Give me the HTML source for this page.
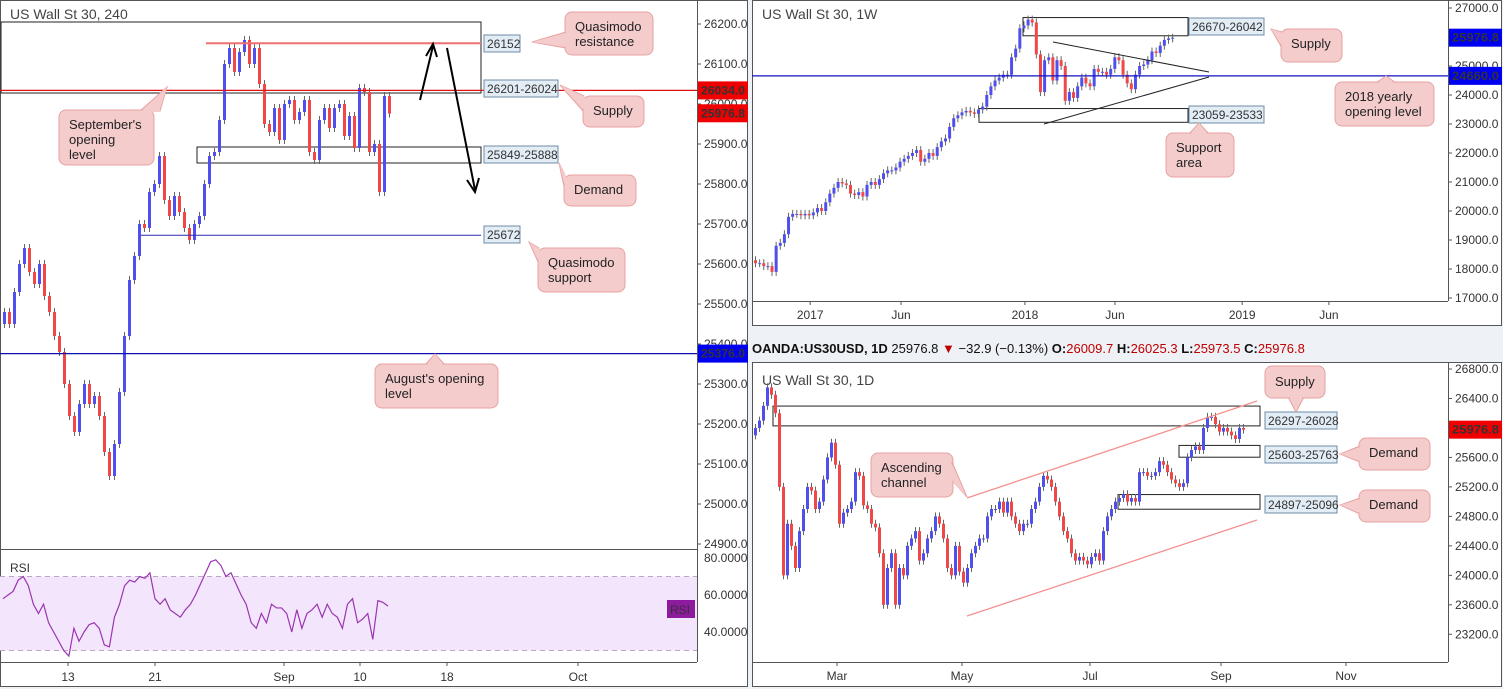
<!DOCTYPE html>
<html><head><meta charset="utf-8"><style>
body{margin:0;background:#eef1f5;}
svg{display:block;font-family:"Liberation Sans",sans-serif;}
.ax{font-size:12px;fill:#333;}
.ttl{font-size:14px;fill:#444;}
.co{font-size:13px;fill:#222;}
</style></head><body>
<svg id="chart" width="1503" height="689" viewBox="0 0 1503 689" xmlns="http://www.w3.org/2000/svg">
<rect x="0" y="0" width="1503" height="689" fill="#eef1f5"/>
<rect x="0.5" y="0.5" width="747" height="686" fill="#fff" stroke="#555"/>
<rect x="752.5" y="0.5" width="749" height="325" fill="#fff" stroke="#555"/>
<rect x="752.5" y="362.5" width="749" height="324" fill="#fff" stroke="#555"/>
<g id="layer"></g>
</svg>
<script>
// ---------- 4H data ----------
const h4Close=[25480,25450,25530,25600,25640,25580,25550,25600,25520,25480,25420,25380,25300,25220,25180,25250,25300,25250,25270,25220,25130,25070,25150,25280,25420,25560,25620,25700,25690,25780,25800,25870,25760,25720,25770,25730,25690,25660,25700,25720,25800,25870,25880,25960,26100,26140,26080,26130,26160,26100,26140,26050,25950,25930,25990,25910,26000,26010,25960,25980,26010,25880,25860,25960,25990,25940,25990,26000,25920,25970,25890,26040,26030,25880,25900,25780,26020,25976];
const h4Open0=25450;
const rsiVals=[58,60,62,68,70,65,55,50,55,45,40,35,30,27,42,35,40,44,45,42,33,32,48,55,65,68,67,70,69,72,58,55,58,52,50,48,52,55,60,66,72,78,79,76,70,72,66,60,55,45,42,50,45,55,53,53,50,40,52,42,50,52,55,48,55,50,48,42,55,58,45,47,50,36,57,56,54];
const h4PriceTicks=[26200,26100,26000,25900,25800,25700,25600,25500,25400,25300,25200,25100,25000,24900];
const h4DateLabels=["13","21","Sep","10","18","Oct"];
const h4DatePos=[13,30.4,56.2,71.4,88.8,115]; // in 4H bar-index units
const rsiTicks=[80,60,40];
// ---------- Weekly data ----------
const wClose=[18200,18200,18100,18100,17900,18800,18900,19200,19800,19900,19900,19850,19900,19850,19950,20100,20000,20300,20600,20800,21000,20950,20900,20600,20550,20650,20500,20900,21000,20900,21100,21300,21400,21400,21500,21700,21800,21900,22000,22100,21700,21800,22000,21900,22200,22400,22500,22900,23200,23300,23400,23450,23400,23350,23500,23600,24000,24300,24500,24600,24700,24700,25300,25600,26300,26400,26600,26500,25400,24100,25200,25300,24500,25200,25000,23800,24100,23900,24300,24600,24400,24300,24900,24800,24800,24700,24900,25300,25200,24700,24400,24200,24700,25000,25050,25200,25500,25450,25700,25900,25950,25976];
const wOpen0=18300;
const wPriceTicks=[27000,26000,25000,24000,23000,22000,21000,20000,19000,18000,17000];
const wDateLabels=["2017","Jun","2018","Jun","2019","Jun"];
const wDatePos=[13.6,35.6,65.6,87.4,118.2,139.2];
// ---------- Daily data ----------
const dClose=[26000,26100,26300,26550,26450,26200,25200,24000,24700,24400,24100,24600,24900,25200,25150,24900,25000,25300,25600,25800,25500,24700,24850,24900,25000,25400,25350,24950,24900,24700,24650,24300,23600,24100,24300,23600,24100,24000,24400,24500,24600,24200,24300,24500,24600,24800,24700,24500,24100,24000,24400,24050,23900,24100,24300,24400,24500,24500,24800,24900,24900,25000,24850,25000,24800,24700,24600,24700,24700,24900,25000,25200,25350,25300,25200,25000,24800,24600,24500,24300,24200,24250,24200,24150,24250,24300,24200,24600,24800,24900,25000,25050,25100,25000,25050,25000,25400,25400,25350,25350,25400,25550,25500,25400,25300,25250,25200,25250,25600,25700,25750,25700,26000,26150,26150,26050,25950,26000,25950,25900,25850,26000,25977];
const dOpen0=25900;
const dPriceTicks=[26800,26400,26000,25600,25200,24800,24400,24000,23600,23200];
const dDateLabels=["Mar","May","Jul","Sep","Nov"];
const dDatePos=[20.75,52,84,116.75,148];

const NS="http://www.w3.org/2000/svg";
const layer=document.getElementById('layer');
function mk(tag,attrs,name,parent){
  const e=document.createElementNS(NS,tag);
  for(const k in attrs)e.setAttribute(k,attrs[k]);
  
  
  (parent||layer).appendChild(e);return e;
}
function txt(x,y,s,cls,name,extra){
  const t=mk('text',Object.assign({x:x,y:y,class:cls},extra||{}),name);
  t.textContent=s;return t;
}
const yH4=p=>24+(26200-p)*0.4;
const xH4=i=>3+i*5;
const yRsi=v=>558+(80-v)*1.85;
const yW=p=>8+(27000-p)*0.029;
const xW=i=>754+i*4.13;
const yD=p=>369+(26800-p)*0.07369;
const xD=i=>754+i*4;

function candles(closes,open0,xf,yf,clipTop,clipBot,nm){
  let o=open0;
  closes.forEach((c,i)=>{
    const x=xf(i),y1=yf(Math.max(o,c)),y2=yf(Math.min(o,c));
    const up=c>=o,col=up?'#4f4ff0':'#f04848';
    mk('line',{x1:x+1.5,x2:x+1.5,y1:Math.max(clipTop,y1-4),y2:Math.min(clipBot,y2+4),stroke:'#666','stroke-width':1},nm+'-wick');
    mk('rect',{x:x,y:y1,width:3,height:Math.max(1,y2-y1),fill:col},nm+'-candle');
    o=c;
  });
}
// ---------- Left 4H panel ----------
txt(10,19,"US Wall St 30, 240","ttl","h4-title");
mk('rect',{x:1,y:22,width:480,height:71,fill:'none',stroke:'#222','stroke-width':1},'supply-zone-26201-26024');
mk('rect',{x:197,y:147,width:284,height:16,fill:'none',stroke:'#222','stroke-width':1},'demand-zone-25849-25888');
candles(h4Close,h4Open0,xH4,yH4,0,548,'h4');
mk('line',{x1:206,x2:481,y1:yH4(26152),y2:yH4(26152),stroke:'#f07070','stroke-width':2},'quasimodo-resistance-line');
mk('line',{x1:0,x2:697,y1:yH4(26034),y2:yH4(26034),stroke:'#e01010','stroke-width':1.3},'september-opening-line');
mk('line',{x1:141,x2:481,y1:yH4(25672),y2:yH4(25672),stroke:'#2a2ab0','stroke-width':1},'quasimodo-support-line');
mk('line',{x1:0,x2:697,y1:yH4(25376),y2:yH4(25376),stroke:'#1010b0','stroke-width':1.3},'august-opening-line');
mk('line',{x1:420,y1:100,x2:433,y2:46,stroke:'#000','stroke-width':2},'arrow-up');
mk('polyline',{points:'426,56 433,44 437,57',fill:'none',stroke:'#000','stroke-width':2},'arrow-up-head');
mk('line',{x1:447,y1:48,x2:475,y2:190,stroke:'#000','stroke-width':2},'arrow-down');
mk('polyline',{points:'467,180 475,192 479,178',fill:'none',stroke:'#000','stroke-width':2},'arrow-down-head');
function lvl(x,y,w,s,nm){mk('rect',{x:x,y:y,width:w,height:17,fill:'#e3edf5',stroke:'#6f8ca5'},nm+'-box');txt(x+3,y+13,s,"ax",nm);}
lvl(484,35,36,"26152","label-26152");
lvl(484,80,74,"26201-26024","label-26201-26024");
lvl(484,146,74,"25849-25888","label-25849-25888");
lvl(484,226,36,"25672","label-25672");
function callout(x,y,w,h,lines,px,py,bx,nm){
  mk('path',{d:`M${bx-10},${y+1} L${px},${py} L${bx+10},${y+1} Z`,fill:'#f4cccc',stroke:'#e8a0a0'},nm+'-pointer');
  mk('rect',{x:x,y:y,width:w,height:h,rx:7,fill:'#f4cccc',stroke:'#e8a0a0'},nm+'-box');
  mk('path',{d:`M${bx-9},${y+2} L${px},${py} L${bx+9},${y+2} Z`,fill:'#f4cccc'},nm+'-pointer-fill');
  lines.forEach((l,i)=>txt(x+10,y+19+i*15,l,"co",nm));
}
function calloutSide(x,y,w,h,lines,px,py,by,nm){
  mk('path',{d:`M${x+1},${by-8} L${px},${py} L${x+1},${by+8} Z`,fill:'#f4cccc',stroke:'#e8a0a0'},nm+'-pointer');
  mk('rect',{x:x,y:y,width:w,height:h,rx:7,fill:'#f4cccc',stroke:'#e8a0a0'},nm+'-box');
  mk('path',{d:`M${x+2},${by-7} L${px},${py} L${x+2},${by+7} Z`,fill:'#f4cccc'},nm+'-pointer-fill');
  lines.forEach((l,i)=>txt(x+10,y+19+i*15,l,"co",nm));
}
calloutSide(565,12,88,43,["Quasimodo","resistance"],532,42,40,"callout-quasimodo-resistance");
calloutSide(583,96,61,31,["Supply"],560,85,104,"callout-supply-h4");
callout(59,110,95,55,["September's","opening","level"],167,87,150,"callout-september-opening");
calloutSide(564,175,72,31,["Demand"],559,163,183,"callout-demand-h4");
calloutSide(538,248,87,44,["Quasimodo","support"],529,242,256,"callout-quasimodo-support");
callout(375,364,123,44,["August's opening","level"],435,354,435,"callout-august-opening");
mk('line',{x1:697.5,x2:697.5,y1:0,y2:662,stroke:'#555'},'h4-y-axis');
mk('line',{x1:0,x2:697,y1:549.5,y2:549.5,stroke:'#555'},'rsi-separator');
mk('line',{x1:0,x2:697,y1:662.5,y2:662.5,stroke:'#555'},'h4-x-axis');
h4PriceTicks.forEach(p=>{mk('line',{x1:697,x2:701,y1:yH4(p),y2:yH4(p),stroke:'#555'},'h4-y-tick');txt(704,yH4(p)+4,p.toFixed(1),"ax","h4-y-tick-label");});
function axLabel(x,y,w,s,fill,nm){mk('rect',{x:x,y:y-9,width:w,height:18,fill:fill},nm+'-box');txt(x+3,y+4,s,"ax",nm,{fill:'#fff','font-weight':'bold',textLength:w-6,lengthAdjust:'spacingAndGlyphs'});}
axLabel(698,yH4(26034),50,"26034.0","#f00000","h4-price-tag-26034");
axLabel(698,yH4(25976.8),50,"25976.8","#f00000","h4-price-tag-current");
axLabel(698,yH4(25376),50,"25376.0","#0000f0","h4-price-tag-25376");
mk('rect',{x:0,y:yRsi(70),width:697,height:yRsi(30)-yRsi(70),fill:'#f3e6fc'},'rsi-band');
mk('line',{x1:0,x2:697,y1:yRsi(70),y2:yRsi(70),stroke:'#b8a8c0','stroke-dasharray':'5,4'},'rsi-70-line');
mk('line',{x1:0,x2:697,y1:yRsi(30),y2:yRsi(30),stroke:'#b8a8c0','stroke-dasharray':'5,4'},'rsi-30-line');
const rsiX=i=>3+i*(385/(rsiVals.length-1));
mk('polyline',{points:rsiVals.map((v,i)=>rsiX(i)+','+yRsi(v)).join(' '),fill:'none',stroke:'#9b34b0','stroke-width':1.2},'rsi-line');
txt(10,572,"RSI","ax","rsi-title",{fill:'#555'});
rsiTicks.forEach(v=>txt(704,yRsi(v)+4,v.toFixed(4),"ax","rsi-tick-label"));
mk('rect',{x:667,y:600,width:28,height:18,fill:'#8e1a9e'},'rsi-tag-box');
txt(670,614,"RSI","ax","rsi-tag",{fill:'#fff'});
h4DateLabels.forEach((s,i)=>{const x=xH4(h4DatePos[i]);mk('line',{x1:x,x2:x,y1:662,y2:666,stroke:'#555'},'h4-x-tick');txt(x,681,s,"ax","h4-x-tick-label",{'text-anchor':'middle'});});

// ---------- Weekly panel ----------
txt(762,19,"US Wall St 30, 1W","ttl","weekly-title");
mk('rect',{x:1023,y:yW(26670),width:165,height:yW(26042)-yW(26670),fill:'none',stroke:'#222'},'weekly-supply-zone');
mk('rect',{x:979,y:yW(23533),width:209,height:yW(23059)-yW(23533),fill:'none',stroke:'#222'},'weekly-support-zone');
candles(wClose,wOpen0,xW,yW,0,300,'weekly');
mk('line',{x1:752,x2:1448,y1:yW(24660),y2:yW(24660),stroke:'#1010c0','stroke-width':1.3},'yearly-opening-line');
mk('line',{x1:1053,y1:42,x2:1209,y2:72,stroke:'#222'},'triangle-upper-line');
mk('line',{x1:1044,y1:124,x2:1209,y2:77,stroke:'#222'},'triangle-lower-line');
lvl(1189,18,75,"26670-26042","label-26670-26042");
lvl(1189,106,75,"23059-23533","label-23059-23533");
calloutSide(1281,29,61,33,["Supply"],1271,29,40,"callout-supply-weekly");
callout(1166,133,68,44,["Support","area"],1199,123,1199,"callout-support-area");
callout(1335,82,99,44,["2018 yearly","opening level"],1386,76,1386,"callout-yearly-opening");
mk('line',{x1:1448.5,x2:1448.5,y1:0,y2:301,stroke:'#555'},'weekly-y-axis');
mk('line',{x1:752,x2:1448,y1:301.5,y2:301.5,stroke:'#555'},'weekly-x-axis');
wPriceTicks.forEach(p=>{mk('line',{x1:1448,x2:1452,y1:yW(p),y2:yW(p),stroke:'#555'},'weekly-y-tick');txt(1455,yW(p)+4,p.toFixed(1),"ax","weekly-y-tick-label");});
axLabel(1449,yW(25976.8),53,"25976.8","#0000f0","weekly-price-tag");
axLabel(1449,yW(24660),53,"24660.0","#0000f0","weekly-tag-24660");
wDateLabels.forEach((s,i)=>{const x=xW(wDatePos[i]);mk('line',{x1:x,x2:x,y1:301,y2:305,stroke:'#555'},'weekly-x-tick');txt(x,319,s,"ax","weekly-x-tick-label",{'text-anchor':'middle'});});

// ---------- Daily panel ----------
const hdr=mk('text',{x:752,y:353,'font-size':'13px','font-weight':'bold',fill:'#111'},'daily-header');
hdr.innerHTML='OANDA:US30USD, 1D <tspan font-weight="normal">25976.8</tspan> <tspan fill="#c00000">▼</tspan> <tspan font-weight="normal">−32.9 (−0.13%)</tspan> O:<tspan font-weight="normal" fill="#c00000">26009.7</tspan> H:<tspan font-weight="normal" fill="#c00000">26025.3</tspan> L:<tspan font-weight="normal" fill="#c00000">25973.5</tspan> C:<tspan font-weight="normal" fill="#c00000">25976.8</tspan>';
txt(762,385,"US Wall St 30, 1D","ttl","daily-title");
mk('rect',{x:773,y:yD(26297),width:487,height:yD(26028)-yD(26297),fill:'none',stroke:'#222'},'daily-supply-zone');
mk('rect',{x:1179,y:yD(25763),width:81,height:yD(25603)-yD(25763),fill:'none',stroke:'#222'},'daily-demand-zone-1');
mk('rect',{x:1118,y:yD(25096),width:142,height:yD(24897)-yD(25096),fill:'none',stroke:'#222'},'daily-demand-zone-2');
candles(dClose,dOpen0,xD,yD,362,661,'daily');
mk('line',{x1:967,y1:498,x2:1257,y2:401,stroke:'#f59090','stroke-width':1.3},'channel-upper-line');
mk('line',{x1:967,y1:616,x2:1257,y2:520,stroke:'#f59090','stroke-width':1.3},'channel-lower-line');
lvl(1265,412,72,"26297-26028","label-26297-26028");
lvl(1265,446,72,"25603-25763","label-25603-25763");
lvl(1265,496,72,"24897-25096","label-24897-25096");
mk('path',{d:'M1288,397 L1296,412 L1304,397 Z',fill:'#f4cccc',stroke:'#e8a0a0'},'callout-supply-daily-pointer');
mk('rect',{x:1265,y:366,width:60,height:32,rx:7,fill:'#f4cccc',stroke:'#e8a0a0'},'callout-supply-daily-box');
mk('path',{d:'M1289,396 L1296,411 L1303,396 Z',fill:'#f4cccc'},'callout-supply-daily-pointer-fill');
txt(1275,386,"Supply","co","callout-supply-daily");
calloutSide(1359,438,71,32,["Demand"],1340,454,454,"callout-demand-daily-1");
calloutSide(1359,490,71,32,["Demand"],1340,505,506,"callout-demand-daily-2");
mk('rect',{x:871,y:453,width:82,height:44,rx:7,fill:'#f4cccc',stroke:'#e8a0a0'},'callout-ascending-channel-box');
mk('path',{d:'M952,462 L967,497 L952,480 Z',fill:'#f4cccc',stroke:'#e8a0a0'},'callout-ascending-channel-pointer');
mk('path',{d:'M951,463 L966,496 L951,479 Z',fill:'#f4cccc'},'callout-ascending-channel-pointer-fill');
txt(881,472,"Ascending","co","callout-ascending-channel");
txt(881,487,"channel","co","callout-ascending-channel");
mk('line',{x1:1448.5,x2:1448.5,y1:362,y2:662,stroke:'#555'},'daily-y-axis');
mk('line',{x1:752,x2:1448,y1:662.5,y2:662.5,stroke:'#555'},'daily-x-axis');
dPriceTicks.forEach(p=>{mk('line',{x1:1448,x2:1452,y1:yD(p),y2:yD(p),stroke:'#555'},'daily-y-tick');txt(1455,yD(p)+4,p.toFixed(1),"ax","daily-y-tick-label");});
axLabel(1449,yD(25976.8),53,"25976.8","#f00000","daily-price-tag");
dDateLabels.forEach((s,i)=>{const x=xD(dDatePos[i]);mk('line',{x1:x,x2:x,y1:662,y2:666,stroke:'#555'},'daily-x-tick');txt(x,680,s,"ax","daily-x-tick-label",{'text-anchor':'middle'});});
</script>
</body></html>
